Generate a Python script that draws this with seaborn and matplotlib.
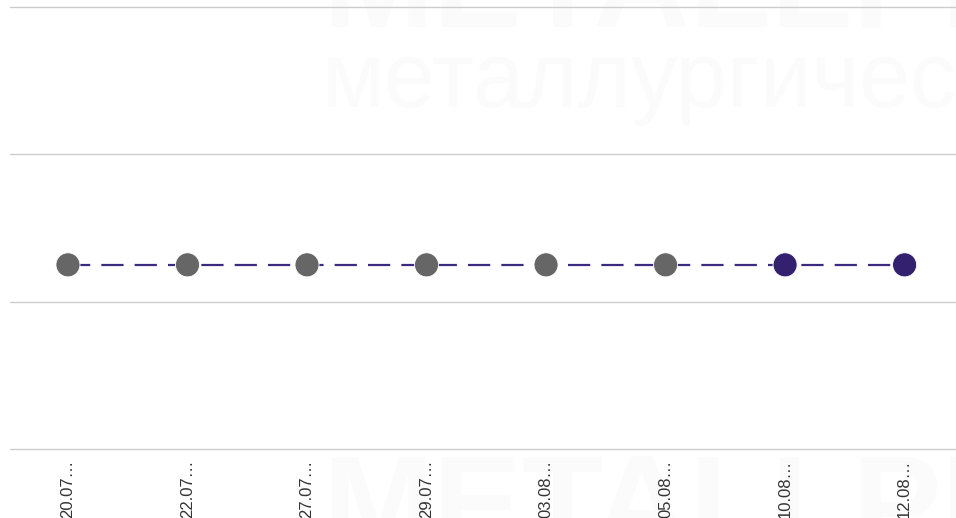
import pandas as pd
import matplotlib.pyplot as plt
import seaborn as sns

# данные графика
dates = ['20.07…', '22.07…', '27.07…', '29.07…', '03.08…', '05.08…', '10.08…', '12.08…']
values = [1.25, 1.25, 1.25, 1.25, 1.25, 1.25, 1.25, 1.25]
status = ['old', 'old', 'old', 'old', 'old', 'old', 'new', 'new']
y_ticks = [0, 1, 2, 3]

df = pd.DataFrame({'date': dates, 'value': values, 'status': status})
df['pos'] = range(len(df))

sns.set_style('white')
plt.rcParams['font.family'] = ['Liberation Sans', 'DejaVu Sans']

fig = plt.figure(figsize=(9.56, 5.18), dpi=100)
ax = fig.add_axes([10 / 956, 69 / 518, 946 / 956, 442 / 518])
ax.set_zorder(1)

# водяной знак (под осями)
wm = '#fbfbfb'
fig.text(322 / 956, 1 - 107 / 518, 'металлургичес', fontsize=66, color=wm, zorder=-1)
fig.text(322 / 956, 1 - 27 / 518, 'METALLPL', fontsize=96, color=wm,
         fontweight='bold', zorder=-1)
fig.text(322 / 956, -0.06, 'METALLPL', fontsize=96, color=wm,
         fontweight='bold', zorder=-1)

# линия и точки
sns.lineplot(x='pos', y='value', data=df, ax=ax, color='#3b2a80', linewidth=1.6,
             dashes=False, zorder=2)
ax.lines[0].set_dashes([10, 5])
sns.scatterplot(x='pos', y='value', hue='status', data=df, ax=ax,
                palette={'old': '#666666', 'new': '#33206f'},
                s=300, edgecolor='white', linewidth=0.6, legend=False, zorder=3)

ax.set_xlim(-0.485, 7.43)
ax.set_ylim(0, 3)
ax.set_yticks(y_ticks)
ax.set_yticklabels([])
ax.set_xticks(df['pos'])
ax.set_xticklabels(dates, rotation=90, fontsize=12, color='#333333',
                   va='top', ha='center')
ax.tick_params(axis='x', length=0, pad=8)
ax.tick_params(axis='y', length=0)
ax.grid(axis='y', color='#cccccc', linewidth=1)
for gl in ax.get_ygridlines():
    gl.set_clip_on(False)
ax.set_xlabel('')
ax.set_ylabel('')
for s in ax.spines.values():
    s.set_visible(False)
ax.patch.set_alpha(0)

plt.savefig('out.png', dpi=100)
